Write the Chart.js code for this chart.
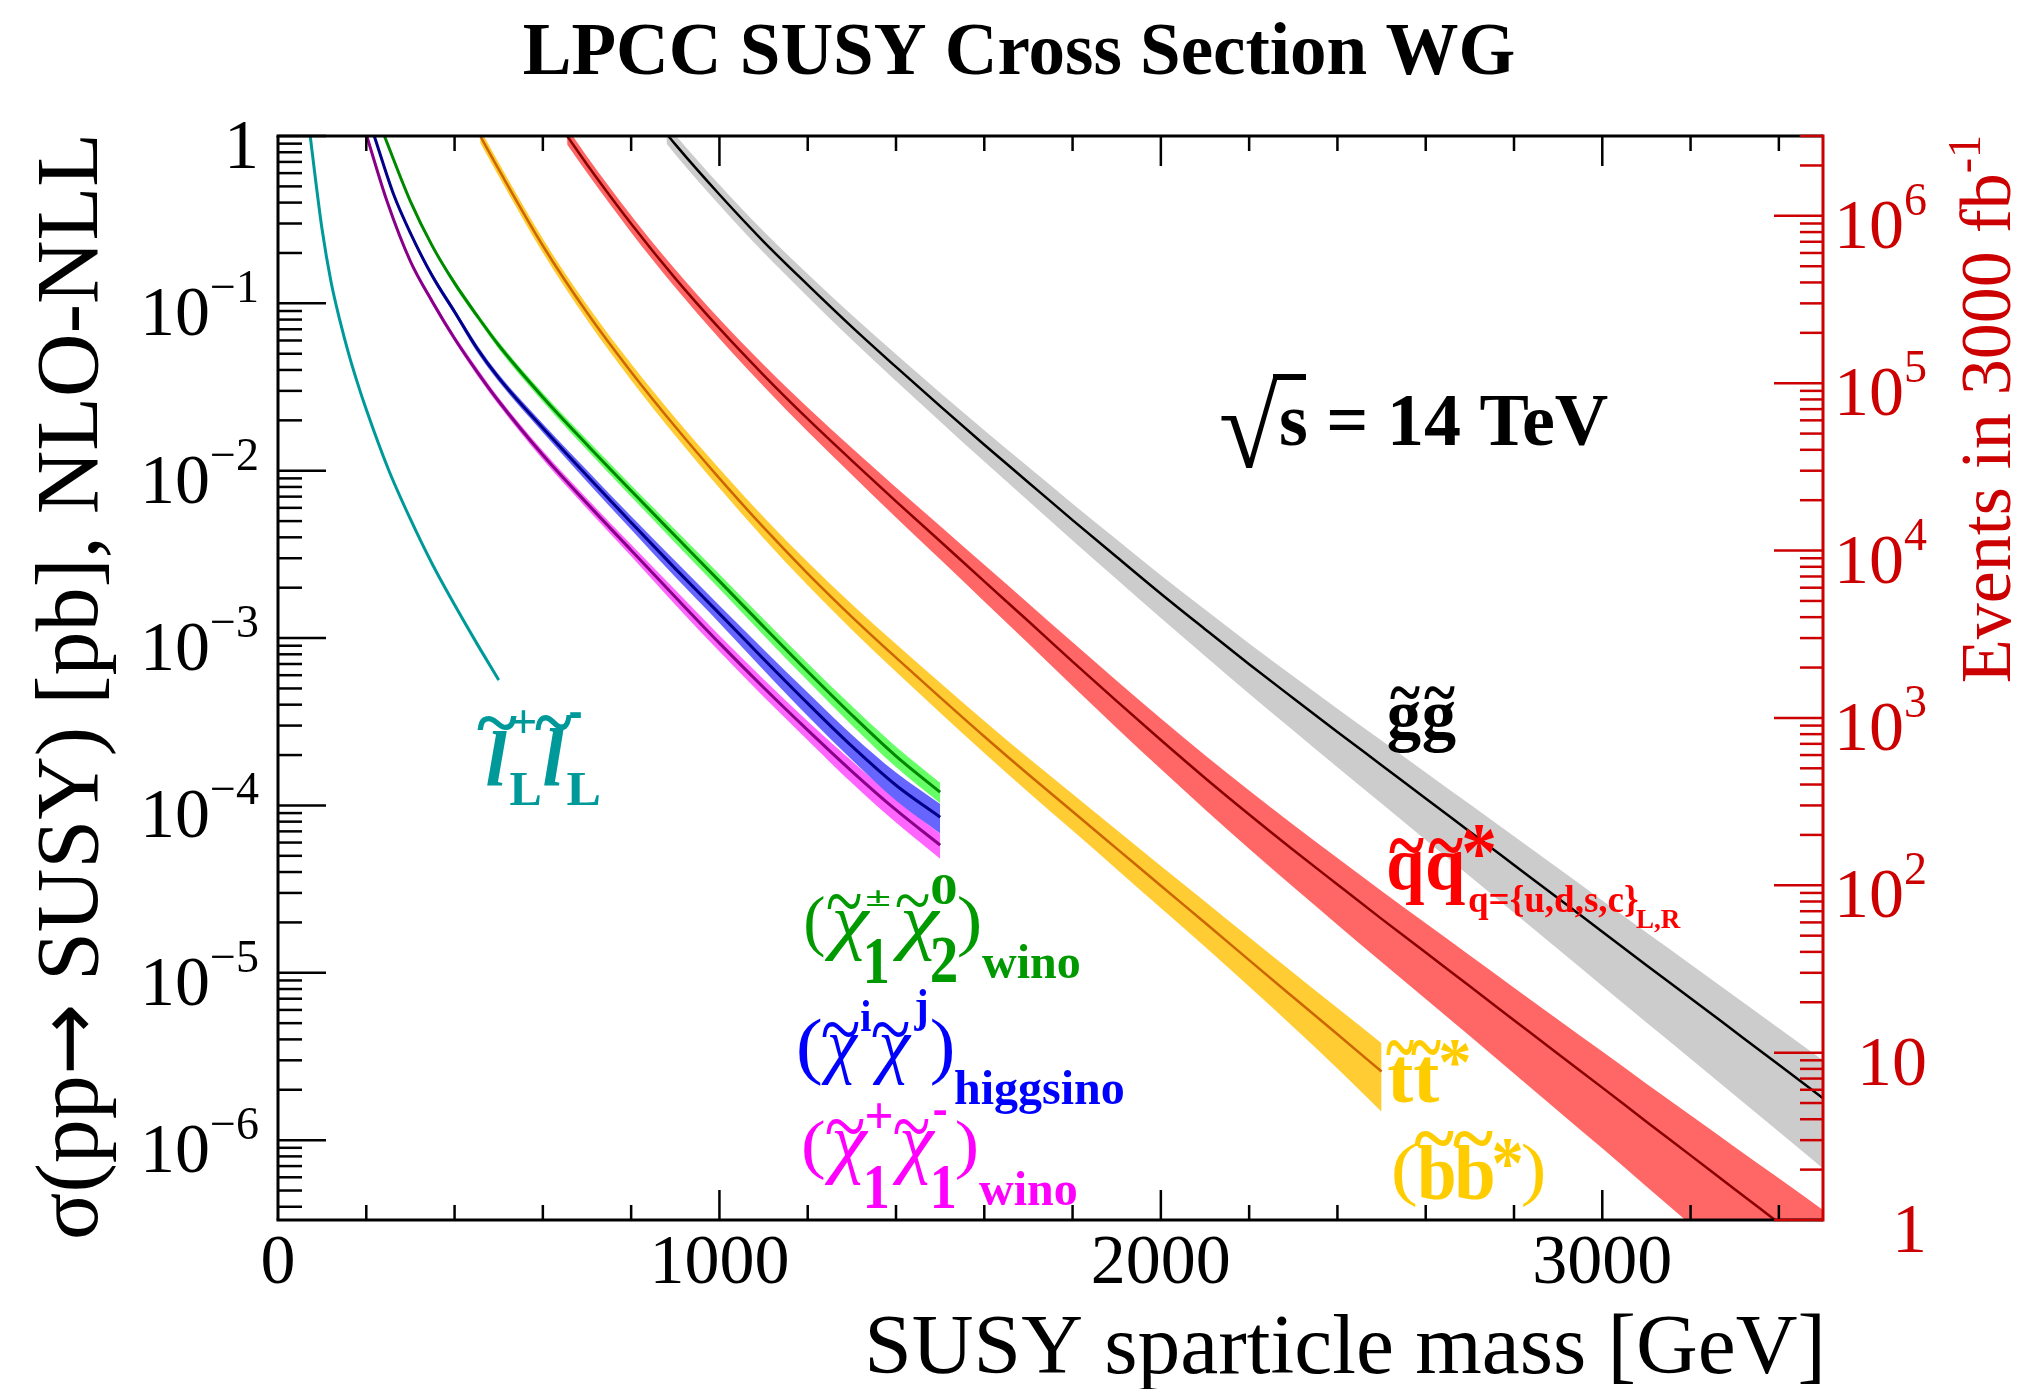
<!DOCTYPE html>
<html><head><meta charset="utf-8">
<script src="https://cdn.jsdelivr.net/npm/chart.js@4.4.0/dist/chart.umd.min.js"></script>
<style>html,body{margin:0;padding:0;background:#fff;}canvas{display:block;}</style>
</head><body>
<canvas id="c" width="2023" height="1389"></canvas>
<script>
// ---------------- DATA ----------------
// masses in GeV, cross sections in pb, uncertainties in percent (up / down)
const gluinoMass  = [880, 900, 1000, 1100, 1200, 1300, 1400, 1500, 1600, 1700, 1800, 1900, 2000, 2100, 2200, 2300, 2400, 2500, 2600, 2700, 2800, 2900, 3000, 3100, 3200, 3300, 3400, 3500];
const gluinoXsec  = [1.035, 0.891, 0.447, 0.234, 0.129, 0.0724, 0.0417, 0.0243, 0.0143, 8.51e-3, 5.07e-3, 3.05e-3, 1.84e-3, 1.13e-3, 6.98e-4, 4.37e-4, 2.75e-4, 1.74e-4, 1.10e-4, 6.97e-5, 4.41e-5, 2.79e-5, 1.76e-5, 1.11e-5, 7.05e-6, 4.46e-6, 2.82e-6, 1.78e-6];
const gluinoUncUp = [14.0, 14.0, 14.3, 15.1, 16.1, 17.5, 18.9, 20.2, 21.9, 23.6, 25.3, 27.1, 28.8, 30.9, 33.0, 35.2, 37.7, 40.3, 42.9, 45.6, 48.2, 51.0, 53.8, 56.7, 59.6, 62.6, 65.6, 68.7];
const gluinoUncDn = [12.9, 12.9, 13.3, 14.1, 15.1, 16.2, 17.6, 18.9, 20.7, 22.6, 24.5, 26.4, 28.4, 30.8, 33.3, 35.9, 38.5, 41.0, 43.5, 45.9, 48.2, 50.5, 52.6, 54.6, 56.5, 58.4, 60.2, 61.9];

const squarkMass  = [655, 700, 800, 900, 1000, 1100, 1200, 1300, 1400, 1500, 1600, 1700, 1800, 1900, 2000, 2100, 2200, 2300, 2400, 2500, 2600, 2700, 2800, 2900, 3000, 3100, 3200, 3300, 3400, 3500];
const squarkXsec  = [1.0, 0.676, 0.299, 0.141, 0.0708, 0.0373, 0.0204, 0.0115, 6.56e-3, 3.79e-3, 2.18e-3, 1.26e-3, 7.24e-4, 4.20e-4, 2.46e-4, 1.46e-4, 8.83e-5, 5.42e-5, 3.37e-5, 2.10e-5, 1.32e-5, 8.30e-6, 5.21e-6, 3.27e-6, 2.06e-6, 1.29e-6, 8.11e-7, 5.09e-7, 3.20e-7, 2.01e-7];
const squarkUncUp = [11.7, 11.7, 12.2, 13.0, 14.0, 15.3, 17.0, 18.9, 21.1, 23.3, 25.6, 27.9, 30.3, 32.4, 34.6, 36.8, 39.0, 41.3, 43.9, 46.6, 49.6, 52.8, 56.3, 60.0, 64.1, 68.7, 73.8, 79.1, 84.9, 90.5];
const squarkUncDn = [10.9, 10.9, 11.3, 11.9, 12.9, 14.3, 15.9, 17.8, 19.8, 22.0, 24.1, 26.4, 28.6, 30.8, 33.0, 35.3, 37.6, 40.0, 42.5, 44.8, 47.2, 49.5, 51.9, 54.3, 56.6, 59.0, 61.3, 63.5, 65.7, 67.6];

const stopMass    = [458, 500, 600, 700, 800, 900, 1000, 1100, 1200, 1300, 1400, 1500, 1600, 1700, 1800, 1900, 2000, 2100, 2200, 2300, 2400, 2500];
const stopXsec    = [1.0, 0.631, 0.221, 0.0881, 0.0389, 0.0183, 9.0e-3, 4.58e-3, 2.43e-3, 1.34e-3, 7.64e-4, 4.42e-4, 2.58e-4, 1.53e-4, 9.2e-5, 5.52e-5, 3.31e-5, 1.99e-5, 1.19e-5, 7.14e-6, 4.29e-6, 2.57e-6];
const stopUncUp   = [9.6, 9.6, 10.2, 10.9, 11.9, 13.0, 14.3, 15.6, 17.2, 18.9, 20.5, 22.2, 23.9, 25.6, 27.4, 29.4, 31.5, 34.0, 36.8, 40.0, 43.5, 47.6];
const stopUncDn   = [8.8, 8.8, 9.2, 9.8, 10.7, 11.5, 12.5, 13.7, 14.9, 16.2, 17.6, 18.9, 20.2, 21.7, 23.1, 24.7, 26.4, 28.2, 30.5, 33.6, 37.6, 42.5];

const winoN2C1Mass  = [241, 300, 350, 400, 450, 500, 600, 700, 800, 900, 1000, 1100, 1200, 1300, 1400, 1500];
const winoN2C1Xsec  = [1.0, 0.407, 0.219, 0.132, 0.0851, 0.0562, 0.0275, 0.0143, 7.59e-3, 4.07e-3, 2.19e-3, 1.17e-3, 6.31e-4, 3.47e-4, 1.97e-4, 1.20e-4];
const winoN2C1Unc   = [3, 3, 3, 4, 4, 5, 6, 7, 8, 9, 10, 11, 12, 13, 14, 14];

const higgsinoMass  = [218, 262, 300, 350, 400, 450, 500, 600, 700, 800, 900, 1000, 1100, 1200, 1300, 1400, 1500];
const higgsinoXsec  = [1.0, 0.447, 0.263, 0.145, 0.0891, 0.0543, 0.0359, 0.0180, 9.33e-3, 4.90e-3, 2.60e-3, 1.40e-3, 7.50e-4, 4.07e-4, 2.26e-4, 1.32e-4, 8.51e-5];
const higgsinoUnc   = [3, 3, 3, 4, 4, 5, 5, 6, 8, 9, 11, 12, 14, 16, 17, 19, 20];

const winoC1C1Mass  = [201, 247, 300, 350, 400, 450, 500, 600, 700, 800, 900, 1000, 1100, 1200, 1300, 1400, 1500];
const winoC1C1Xsec  = [1.0, 0.407, 0.178, 0.102, 0.0617, 0.0394, 0.0260, 0.0124, 6.38e-3, 3.35e-3, 1.76e-3, 9.33e-4, 5.07e-4, 2.82e-4, 1.60e-4, 9.40e-5, 5.79e-5];
const winoC1C1Unc   = [3, 3, 3, 4, 4, 5, 5, 6, 7, 8, 10, 11, 12, 13, 15, 16, 17];

const sleptonMass   = [73, 85, 100, 120, 140, 160, 180, 200, 250, 300, 350, 400, 450, 500];
const sleptonXsec   = [1.0, 0.550, 0.275, 0.135, 0.0794, 0.0501, 0.0335, 0.0232, 0.0102, 5.13e-3, 2.75e-3, 1.58e-3, 9.33e-4, 5.62e-4];
const sleptonUnc    = [2, 2, 2, 2, 2, 2, 2, 2, 2, 2, 2, 3, 3, 3];

// axes
const xMin = 0, xMax = 3500, xMajorStep = 1000, xMinorStep = 200;
const xTickValues = [0, 1000, 2000, 3000];
const xTickLabels = ['0', '1000', '2000', '3000'];
const lumiFactor = 3e6;               // events per pb for 3000 fb^-1
const yMin = 1 / lumiFactor, yMax = 1; // pb
const yLeftExponents  = [0, -1, -2, -3, -4, -5, -6];
const yRightExponents = [0, 1, 2, 3, 4, 5, 6];

// ---------------- STYLE ----------------
const SERIF = '"Liberation Serif", "Times New Roman", serif';
const fnt = (size, style, fam) => (style ? style + ' ' : '') + size + 'px ' + (fam || SERIF);
const TEAL = '#009999', GREEN = '#009900', BLUE = '#0000ff', MAG = '#ff00ff', RED = '#ff0000', GOLD = '#ffcc00', BLK = '#000000', AXRED = '#cc0000';

const series = [
  {mass: sleptonMass,  xsec: sleptonXsec,  up: sleptonUnc,  dn: sleptonUnc,  band: '#66ffff', line: '#009999', lw: 3},
  {mass: gluinoMass,   xsec: gluinoXsec,   up: gluinoUncUp, dn: gluinoUncDn, band: '#cccccc', line: '#000000', lw: 2.5},
  {mass: squarkMass,   xsec: squarkXsec,   up: squarkUncUp, dn: squarkUncDn, band: '#ff6666', line: '#880000', lw: 2.5},
  {mass: stopMass,     xsec: stopXsec,     up: stopUncUp,   dn: stopUncDn,   band: '#ffcc33', line: '#cc6600', lw: 2.5},
  {mass: winoN2C1Mass, xsec: winoN2C1Xsec, up: winoN2C1Unc, dn: winoN2C1Unc, band: '#66ff66', line: '#008800', lw: 3},
  {mass: higgsinoMass, xsec: higgsinoXsec, up: higgsinoUnc, dn: higgsinoUnc, band: '#6666ff', line: '#000088', lw: 3},
  {mass: winoC1C1Mass, xsec: winoC1C1Xsec, up: winoC1C1Unc, dn: winoC1C1Unc, band: '#ff66ff', line: '#880088', lw: 3},
];

const datasets = [];
series.forEach(s => {
  const idx = datasets.length;
  const common = {pointRadius: 0, cubicInterpolationMode: 'monotone'};
  datasets.push(Object.assign({}, common, {
    data: s.mass.map((m, i) => ({x: m, y: s.xsec[i] * (1 + s.up[i] / 100)})),
    borderColor: 'rgba(0,0,0,0)', borderWidth: 0, backgroundColor: s.band, fill: idx + 1, order: 2}));
  datasets.push(Object.assign({}, common, {
    data: s.mass.map((m, i) => ({x: m, y: s.xsec[i] * (1 - s.dn[i] / 100)})),
    borderColor: 'rgba(0,0,0,0)', borderWidth: 0, fill: false, order: 2}));
  datasets.push(Object.assign({}, common, {
    data: s.mass.map((m, i) => ({x: m, y: s.xsec[i]})),
    borderColor: s.line, borderWidth: s.lw, fill: false, order: 1}));
});

// ---------------- LABEL GLYPHS ----------------
const glyphBoxes = [
  ['l','bold italic',TEAL,487,731,507,785], ['~','bold',TEAL,477,716,517,730], ['+','bold',TEAL,512,710,535,733],
  ['L','bold',TEAL,510,773,540,805], ['l','bold italic',TEAL,544,728,564,785], ['~','bold',TEAL,535,715,572,730],
  ['-','bold',TEAL,570,712,581,718], ['L','bold',TEAL,567,773,599,805],
  ['(','',GREEN,806,895,824,958], ['~','',GREEN,827,895,861,910], ['χ','italic',GREEN,824,911,871,961],
  ['±','bold',GREEN,867,891,889,906], ['1','bold',GREEN,867,938,887,983], ['~','',GREEN,896,895,929,908],
  ['χ','italic',GREEN,892,911,941,961], ['0','bold',GREEN,932,875,956,905], ['2','bold',GREEN,932,938,956,983],
  [')','',GREEN,959,895,979,958],
  ['(','',BLUE,799,1018,821,1086], ['~','',BLUE,822,1023,859,1038], ['χ','italic',BLUE,821,1035,859,1085],
  ['i','bold',BLUE,861,1000,871,1031], ['~','',BLUE,872,1023,909,1038], ['χ','italic',BLUE,872,1035,912,1085],
  ['j','bold',BLUE,914,990,926,1031], [')','',BLUE,932,1018,952,1086],
  ['(','',MAG,804,1120,824,1181], ['~','',MAG,826,1120,864,1135], ['χ','italic',MAG,824,1131,869,1185],
  ['+','bold',MAG,867,1103,891,1128], ['1','bold',MAG,867,1166,887,1208], ['~','',MAG,894,1120,929,1135],
  ['χ','italic',MAG,892,1131,936,1185], ['-','bold',MAG,934,1110,946,1115], ['1','bold',MAG,934,1166,954,1208],
  [')','',MAG,957,1120,976,1181],
  ['q','bold',RED,1389,853,1424,905], ['q','bold',RED,1428,853,1465,905], ['~','bold',RED,1389,838,1424,853],
  ['~','bold',RED,1428,838,1463,853], ['*','bold',RED,1464,826,1494,858],
  ['g','bold',BLK,1388,701,1421,753], ['g','bold',BLK,1423,701,1456,753], ['~','bold',BLK,1390,686,1420,699],
  ['~','bold',BLK,1424,686,1455,699],
  ['t','bold',GOLD,1388,1058,1413,1103], ['t','bold',GOLD,1414,1058,1439,1103], ['~','bold',GOLD,1386,1040,1414,1055],
  ['~','bold',GOLD,1411,1040,1441,1055], ['*','bold',GOLD,1441,1040,1469,1066],
  ['(','',GOLD,1394,1143,1416,1208], ['b','bold',GOLD,1418,1146,1454,1201], ['b','bold',GOLD,1455,1146,1493,1201],
  ['~','bold',GOLD,1414,1131,1454,1146], ['~','bold',GOLD,1453,1131,1493,1146], ['*','bold',GOLD,1494,1140,1521,1168],
  [')','',GOLD,1523,1143,1543,1208],
  ['√','',BLK,1221,373,1279,468],
];
const words = [
  ['wino', 48, 'bold', GREEN, 982, 978],
  ['higgsino', 48, 'bold', BLUE, 954, 1104],
  ['wino', 48, 'bold', MAG, 979, 1205],
  ['q={u,d,s,c}', 37, 'bold', RED, 1468, 912],
  ['L,R', 27, 'bold', RED, 1636, 928],
  ['s = 14 TeV', 74, 'bold', BLK, 1279, 445],
];

function fitText(ctx, str, style, color, x0, y0, x1, y1) {
  ctx.save();
  ctx.font = fnt(100, style);
  ctx.textAlign = 'left'; ctx.textBaseline = 'alphabetic';
  const m = ctx.measureText(str);
  const gl = -m.actualBoundingBoxLeft, gr = m.actualBoundingBoxRight;
  const gt = -m.actualBoundingBoxAscent, gb = m.actualBoundingBoxDescent;
  const sx = (x1 - x0) / Math.max(1e-3, gr - gl), sy = (y1 - y0) / Math.max(1e-3, gb - gt);
  ctx.translate(x0, y0); ctx.scale(sx, sy);
  ctx.fillStyle = color;
  ctx.fillText(str, -gl, -gt);
  ctx.restore();
}
function seg(ctx, x1, y1, x2, y2) { ctx.beginPath(); ctx.moveTo(x1, y1); ctx.lineTo(x2, y2); ctx.stroke(); }

const framePlugin = {
  id: 'frame',
  beforeDraw(chart) {
    const c = chart.ctx; c.save(); c.fillStyle = '#fff'; c.fillRect(0, 0, chart.width, chart.height); c.restore();
  },
  afterDraw(chart) {
    const ctx = chart.ctx, a = chart.chartArea;
    const xs = chart.scales.x, ys = chart.scales.y, yr = chart.scales.yR;
    ctx.save();
    ctx.lineCap = 'butt';
    // frame
    ctx.strokeStyle = BLK; ctx.lineWidth = 3;
    seg(ctx, a.left - 1.5, a.top, a.right, a.top);
    seg(ctx, a.left - 1.5, a.bottom, a.right, a.bottom);
    seg(ctx, a.left, a.top, a.left, a.bottom);
    // x ticks
    ctx.lineWidth = 2.5;
    for (let v = xMin + xMinorStep; v < xMax; v += xMinorStep) {
      const px = xs.getPixelForValue(v);
      const len = (v % xMajorStep === 0) ? 30 : 15;
      seg(ctx, px, a.bottom, px, a.bottom - len);
      seg(ctx, px, a.top, px, a.top + len);
    }
    // left y ticks
    for (let e = -7; e <= 0; e++) {
      for (let j = 1; j <= 9; j++) {
        const v = j * Math.pow(10, e);
        if (v < yMin * 0.999 || v > yMax * 1.001) continue;
        const py = ys.getPixelForValue(v);
        seg(ctx, a.left, py, a.left + (j === 1 ? 48 : 24), py);
      }
    }
    // right axis (red)
    ctx.strokeStyle = AXRED; ctx.lineWidth = 3;
    seg(ctx, a.right, a.top - 1.5, a.right, a.bottom + 1.5);
    ctx.lineWidth = 2.5;
    for (let e = 0; e <= 6; e++) {
      for (let j = 1; j <= 9; j++) {
        const v = j * Math.pow(10, e);
        if (v > yr.max * 1.001) continue;
        const py = yr.getPixelForValue(v);
        seg(ctx, a.right, py, a.right - (j === 1 ? 49 : 23), py);
      }
    }
    // tick labels
    ctx.fillStyle = BLK; ctx.textBaseline = 'alphabetic';
    ctx.font = fnt(70); ctx.textAlign = 'center';
    xTickValues.forEach((v, i) => ctx.fillText(xTickLabels[i], xs.getPixelForValue(v), 1283));
    const leftEdge = 259;
    yLeftExponents.forEach(e => {
      const py = ys.getPixelForValue(Math.pow(10, e));
      ctx.fillStyle = BLK;
      if (e === 0) { ctx.font = fnt(70); ctx.textAlign = 'right'; ctx.fillText('1', leftEdge, py + 32); return; }
      const sup = '\u2212' + (-e);
      ctx.font = fnt(46); const w = ctx.measureText(sup).width;
      ctx.textAlign = 'left'; ctx.fillText(sup, leftEdge - w, py - 1);
      ctx.font = fnt(70); ctx.textAlign = 'right'; ctx.fillText('10', leftEdge - w, py + 32);
    });
    const rightEdge = 1927;
    yRightExponents.forEach(e => {
      const py = yr.getPixelForValue(Math.pow(10, e));
      ctx.fillStyle = AXRED;
      if (e <= 1) { ctx.font = fnt(70); ctx.textAlign = 'right'; ctx.fillText(e === 0 ? '1' : '10', rightEdge, py + 32); return; }
      const sup = String(e);
      ctx.font = fnt(46); const w = ctx.measureText(sup).width;
      ctx.textAlign = 'left'; ctx.fillText(sup, rightEdge - w, py - 1);
      ctx.font = fnt(70); ctx.textAlign = 'right'; ctx.fillText('10', rightEdge - w, py + 32);
    });
    // titles
    ctx.fillStyle = BLK; ctx.font = fnt(73, 'bold'); ctx.textAlign = 'center';
    ctx.fillText('LPCC SUSY Cross Section WG', 1019, 74);
    ctx.font = fnt(85.5); ctx.textAlign = 'right';
    ctx.fillText('SUSY sparticle mass [GeV]', 1826, 1373);
    // left y title (three runs, arrow from DejaVu Sans for its length)
    ctx.save();
    ctx.translate(97, 133); ctx.rotate(-Math.PI / 2);
    ctx.textAlign = 'left';
    const runs = [['σ(pp', fnt(88)], ['\u2192', fnt(86, '', '"DejaVu Sans"')], [' SUSY) [pb], NLO-NLL', fnt(88)]];
    let total = 0;
    runs.forEach(r => { ctx.font = r[1]; total += ctx.measureText(r[0]).width; });
    let cx = -total;
    runs.forEach(r => { ctx.font = r[1]; ctx.fillText(r[0], cx, 0); cx += ctx.measureText(r[0]).width; });
    ctx.restore();
    // right y title
    ctx.save();
    ctx.translate(2010, 135); ctx.rotate(-Math.PI / 2);
    ctx.fillStyle = AXRED;
    ctx.font = fnt(46); ctx.textAlign = 'right';
    const sw = ctx.measureText('-1').width;
    ctx.fillText('-1', 0, -30);
    ctx.font = fnt(72);
    ctx.fillText('Events in 3000 fb', -sw, 0);
    ctx.restore();
    // curve labels
    glyphBoxes.forEach(g => fitText(ctx, g[0], g[1], g[2], g[3], g[4], g[5], g[6]));
    words.forEach(w => {
      ctx.font = fnt(w[1], w[2]); ctx.fillStyle = w[3]; ctx.textAlign = 'left';
      ctx.fillText(w[0], w[4], w[5]);
    });
    // radical bar
    ctx.strokeStyle = BLK; ctx.lineWidth = 6;
    seg(ctx, 1273, 377, 1306, 377);
    ctx.restore();
  }
};

new Chart(document.getElementById('c'), {
  type: 'line',
  data: {datasets},
  options: {
    responsive: false, animation: false, devicePixelRatio: 1, events: [],
    layout: {padding: {left: 278, right: 200, top: 136, bottom: 169}},
    scales: {
      x: {type: 'linear', min: xMin, max: xMax, display: false},
      y: {type: 'logarithmic', min: yMin, max: yMax, display: false},
      yR: {type: 'logarithmic', position: 'right', min: yMin * lumiFactor, max: yMax * lumiFactor, display: false}
    },
    plugins: {legend: {display: false}, tooltip: {enabled: false}, title: {display: false}},
    elements: {point: {radius: 0}}
  },
  plugins: [framePlugin]
});
</script>
</body></html>
